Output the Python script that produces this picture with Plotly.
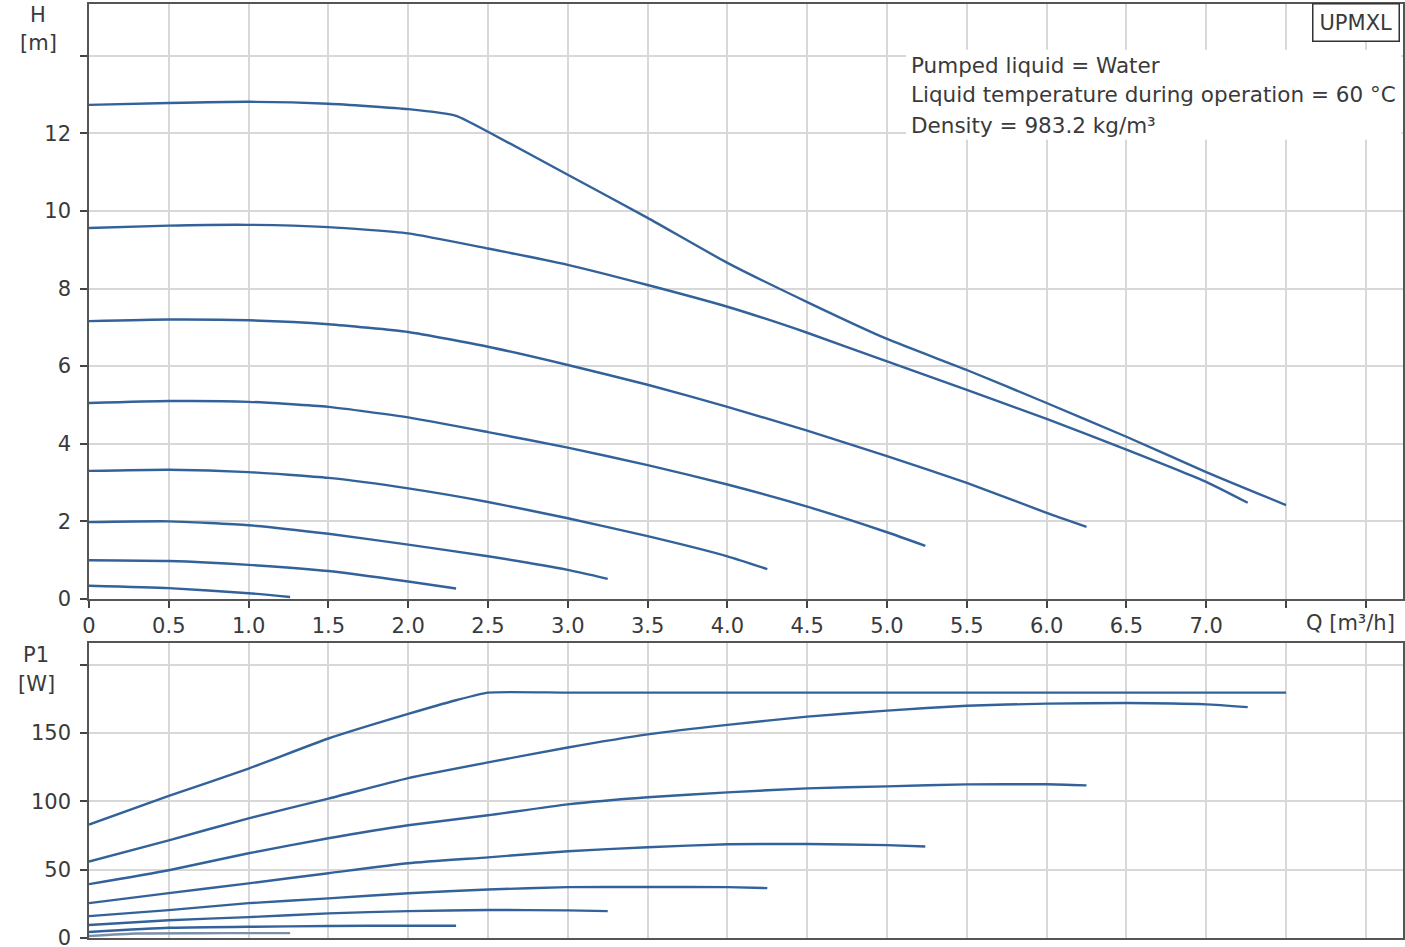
import plotly.graph_objects as go

# ---------------- data ----------------
# Q-H curves (Q in m3/h, H in m)
q_h1 = [0, 0.5, 1.0, 1.5, 2.0, 2.3, 2.5, 3.0, 3.5, 4.0, 4.5, 5.0, 5.5, 6.0, 6.5, 7.0, 7.5]
h_h1 = [12.73, 12.78, 12.81, 12.76, 12.62, 12.45, 12.04, 10.93, 9.82, 8.66, 7.65, 6.7, 5.9, 5.05, 4.18, 3.27, 2.42]
q_h2 = [0, 0.5, 1.0, 1.5, 2.0, 2.5, 3.0, 3.5, 4.0, 4.5, 5.0, 5.5, 6.0, 6.5, 7.0, 7.26]
h_h2 = [9.56, 9.62, 9.64, 9.58, 9.42, 9.03, 8.61, 8.09, 7.53, 6.86, 6.12, 5.39, 4.64, 3.85, 3.02, 2.48]
q_h3 = [0, 0.5, 1.0, 1.5, 2.0, 2.5, 3.0, 3.5, 4.0, 4.5, 5.0, 5.5, 6.0, 6.25]
h_h3 = [7.16, 7.2, 7.18, 7.08, 6.88, 6.5, 6.03, 5.52, 4.95, 4.34, 3.68, 2.99, 2.22, 1.86]
q_h4 = [0, 0.5, 1.0, 1.5, 2.0, 2.5, 3.0, 3.5, 4.0, 4.5, 5.0, 5.24]
h_h4 = [5.05, 5.1, 5.08, 4.95, 4.68, 4.3, 3.9, 3.45, 2.95, 2.38, 1.72, 1.37]
q_h5 = [0, 0.5, 1.0, 1.5, 2.0, 2.5, 3.0, 3.5, 4.0, 4.25]
h_h5 = [3.3, 3.33, 3.27, 3.12, 2.85, 2.5, 2.08, 1.62, 1.1, 0.77]
q_h6 = [0, 0.5, 1.0, 1.5, 2.0, 2.5, 3.0, 3.25]
h_h6 = [1.98, 2.0, 1.9, 1.68, 1.4, 1.1, 0.75, 0.52]
q_h7 = [0, 0.5, 1.0, 1.5, 2.0, 2.3]
h_h7 = [1.0, 0.98, 0.88, 0.72, 0.45, 0.27]
q_h8 = [0, 0.5, 1.0, 1.26]
h_h8 = [0.34, 0.28, 0.15, 0.05]

# Q-P1 curves (P1 in W)
q_p1 = [0, 0.5, 1.0, 1.5, 2.0, 2.3, 2.5, 3.0, 4.0, 5.0, 6.0, 7.0, 7.5]
p_p1 = [83, 104, 124, 146, 164, 174, 179.6, 179.6, 179.6, 179.6, 179.6, 179.6, 179.6]
q_p2 = [0, 0.5, 1.0, 1.5, 2.0, 2.5, 3.0, 3.5, 4.0, 4.5, 5.0, 5.5, 6.0, 6.5, 7.0, 7.26]
p_p2 = [56, 71.5, 87.6, 102, 117, 128.5, 139.4, 149, 156, 162, 166.4, 170, 171.5, 172, 171, 169]
q_p3 = [0, 0.5, 1.0, 1.5, 2.0, 2.5, 3.0, 3.5, 4.0, 4.5, 5.0, 5.5, 6.0, 6.25]
p_p3 = [39.4, 49.6, 62, 73, 82.5, 89.8, 97.8, 103, 106.6, 109.5, 111, 112.4, 112.5, 111.7]
q_p4 = [0, 0.5, 1.0, 1.5, 2.0, 2.5, 3.0, 3.5, 4.0, 4.5, 5.0, 5.24]
p_p4 = [25.5, 32.8, 40, 47.4, 54.7, 59, 63.5, 66.4, 68.6, 68.8, 68, 67]
q_p5 = [0, 0.5, 1.0, 1.5, 2.0, 2.5, 3.0, 3.5, 4.0, 4.25]
p_p5 = [16, 20.4, 25.5, 29, 32.8, 35.5, 37.2, 37.3, 37.2, 36.5]
q_p6 = [0, 0.5, 1.0, 1.5, 2.0, 2.5, 3.0, 3.25]
p_p6 = [9.5, 13, 15.3, 18, 19.7, 20.5, 20.2, 19.7]
q_p7 = [0, 0.5, 1.0, 1.5, 2.0, 2.3]
p_p7 = [4.4, 7.5, 8.2, 8.8, 9.0, 9.0]
q_p8 = [0, 0.3, 0.7, 1.0, 1.26]
p_p8 = [1.5, 3.3, 3.5, 3.6, 3.6]

x_tickvals = [0, 0.5, 1.0, 1.5, 2.0, 2.5, 3.0, 3.5, 4.0, 4.5, 5.0, 5.5, 6.0, 6.5, 7.0, 7.5, 8.0]
x_ticktext = ["0", "0.5", "1.0", "1.5", "2.0", "2.5", "3.0", "3.5", "4.0", "4.5", "5.0", "5.5", "6.0", "6.5", "7.0", "", ""]
h_tickvals = [0, 2, 4, 6, 8, 10, 12, 14]
h_ticktext = ["0", "2", "4", "6", "8", "10", "12", ""]
p_tickvals = [0, 50, 100, 150, 200]
p_ticktext = ["0", "50", "100", "150", ""]

info_lines = ["Pumped liquid = Water",
              "Liquid temperature during operation = 60 °C",
              "Density = 983.2 kg/m³"]

# ---------------- figure ----------------
LINE = "#33629a"
FONT = "DejaVu Sans, Verdana, sans-serif"
TXT = "#3a3a3a"
FS = 21

# pixel helpers for layout (figure 1405x947, plot area left 89, bottom 938, top 4)
L, W_PLOT = 89, 1314
B, H_PLOT = 938, 934


def px_x(px):
    return (px - L) / W_PLOT


def px_y(py):
    return (B - py) / H_PLOT


fig = go.Figure()

h_curves = [(q_h1, h_h1), (q_h2, h_h2), (q_h3, h_h3), (q_h4, h_h4),
            (q_h5, h_h5), (q_h6, h_h6), (q_h7, h_h7), (q_h8, h_h8)]
p_curves = [(q_p1, p_p1), (q_p2, p_p2), (q_p3, p_p3), (q_p4, p_p4),
            (q_p5, p_p5), (q_p6, p_p6), (q_p7, p_p7), (q_p8, p_p8)]

for q, h in h_curves:
    fig.add_trace(go.Scatter(x=q, y=h, mode="lines", xaxis="x", yaxis="y",
                             line=dict(color=LINE, width=2.4, shape="spline", smoothing=0.5),
                             showlegend=False, hoverinfo="skip"))
for i, (q, p) in enumerate(p_curves):
    col = "#7d8fa8" if i == 7 else LINE
    fig.add_trace(go.Scatter(x=q, y=p, mode="lines", xaxis="x2", yaxis="y2",
                             line=dict(color=col, width=2.4, shape="spline", smoothing=0.5),
                             showlegend=False, hoverinfo="skip"))

axis_common = dict(showline=True, linecolor="#555555", linewidth=1.6, mirror=True,
                   showgrid=True, gridcolor="#d8d8d8", gridwidth=1.6,
                   ticks="outside", ticklen=7, tickcolor="#444444", tickwidth=1.6,
                   tickfont=dict(family=FONT, size=FS, color=TXT), zeroline=False,
                   automargin=False, ticklabeloverflow="allow")

XMAX = 8.233
fig.update_layout(
    width=1405, height=947,
    margin=dict(l=89, r=2, t=4, b=9),
    paper_bgcolor="white", plot_bgcolor="white",
    xaxis=dict(domain=[0, 1], range=[0, XMAX], anchor="y", ticklabelstandoff=0,
               tickmode="array", tickvals=x_tickvals, ticktext=x_ticktext, **axis_common),
    yaxis=dict(domain=[px_y(599), 1], range=[0, 15.33], anchor="x", ticklabelstandoff=5,
               tickmode="array", tickvals=h_tickvals, ticktext=h_ticktext, **axis_common),
    xaxis2=dict(domain=[0, 1], range=[0, XMAX], anchor="y2", matches="x",
                tickmode="array", tickvals=x_tickvals, ticktext=[""] * len(x_tickvals),
                **{**axis_common, "ticks": ""}),
    yaxis2=dict(domain=[0, px_y(643)], range=[0, 215.9], anchor="x2", ticklabelstandoff=5,
                tickmode="array", tickvals=p_tickvals, ticktext=p_ticktext, **axis_common),
)

# white box behind info text
fig.add_shape(type="rect", xref="x", yref="y", x0=5.12, x1=XMAX - 0.01, y0=11.83, y1=14.15,
              fillcolor="white", line=dict(width=0), layer="above")

info_y = [65, 95, 126]
for line_txt, py in zip(info_lines, info_y):
    fig.add_annotation(text=line_txt, xref="paper", yref="paper",
                       x=px_x(909), y=px_y(py),
                       xanchor="left", yanchor="middle", showarrow=False,
                       font=dict(family=FONT, size=21.5, color=TXT))

fig.add_annotation(text="UPMXL", xref="paper", yref="paper",
                   x=px_x(1400), y=px_y(3), xanchor="right", yanchor="top",
                   showarrow=False, bgcolor="white", bordercolor="#333333", borderwidth=1.5,
                   borderpad=6, font=dict(family=FONT, size=FS, color=TXT))

labels = [("H", 38, 15), ("[m]", 38, 43), ("P1", 36, 655), ("[W]", 36, 684),
          ("Q [m³/h]", 1350, 623)]
for t, px, py in labels:
    fig.add_annotation(text=t, xref="paper", yref="paper",
                       x=px_x(px), y=px_y(py),
                       xanchor="center", yanchor="middle", showarrow=False,
                       font=dict(family=FONT, size=FS, color=TXT))

fig.write_html("out.html", config={"displayModeBar": False},
               post_script="document.body.style.margin='0px';")
